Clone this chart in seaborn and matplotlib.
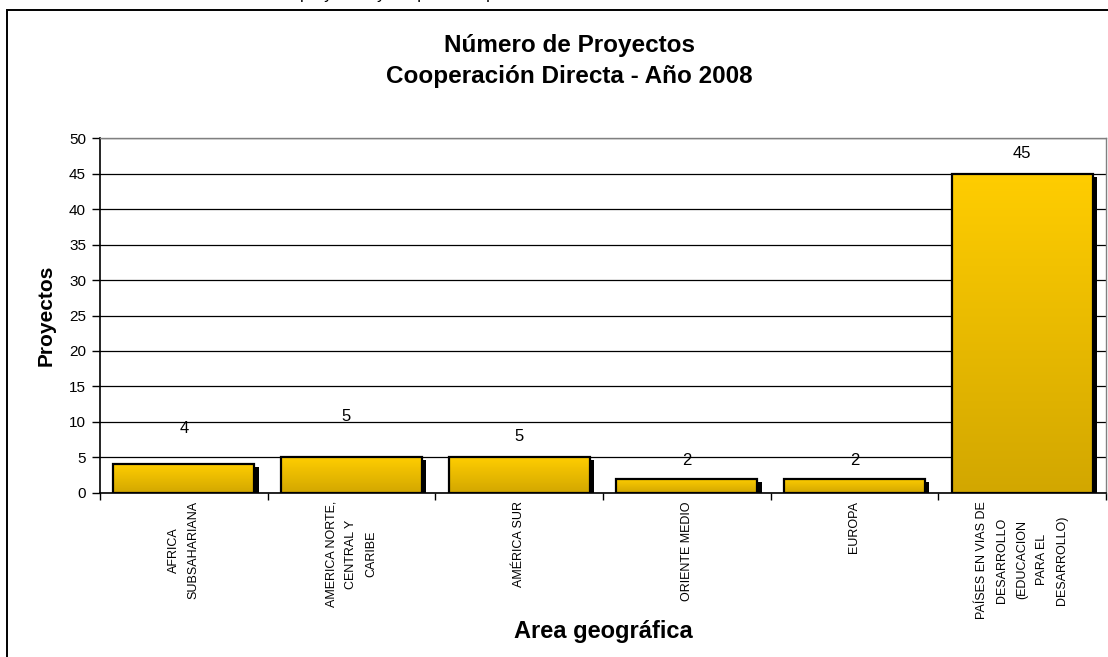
import numpy as np
import pandas as pd
import matplotlib
matplotlib.use("Agg")
import matplotlib.pyplot as plt
import matplotlib.transforms as mtransforms
from matplotlib.patches import Rectangle
from matplotlib.colors import LinearSegmentedColormap
import seaborn as sns

# datos
areas = [
    "AFRICA\nSUBSAHARIANA",
    "AMERICA NORTE,\nCENTRAL Y\nCARIBE",
    "AMÉRICA SUR",
    "ORIENTE MEDIO",
    "EUROPA",
    "PAÍSES EN VIAS DE\nDESARROLLO\n(EDUCACION\nPARA EL\nDESARROLLO)",
]
proyectos = [4, 5, 5, 2, 2, 45]
titulo = "Número de Proyectos\nCooperación Directa - Año 2008"

df = pd.DataFrame({"area": areas, "proyectos": proyectos})

sns.set_style("white")
plt.rcParams["font.family"] = ["Liberation Sans", "DejaVu Sans"]
plt.rcParams["text.color"] = "black"
plt.rcParams["axes.labelcolor"] = "black"
plt.rcParams["xtick.color"] = "black"
plt.rcParams["ytick.color"] = "black"

fig = plt.figure(figsize=(11.08, 6.57), dpi=100)
ax = fig.add_axes([100 / 1108, 1 - 492.7 / 657, 1006 / 1108, (492.7 - 138.3) / 657])

sns.barplot(data=df, x="area", y="proyectos", color="#FFCC00", width=0.84,
            edgecolor="black", linewidth=1.6, ax=ax, zorder=4)

# degradado amarillo + sombra negra
cmap = LinearSegmentedColormap.from_list("oro", ["#D2A700", "#FFCD00"])
grad = np.linspace(0, 1, 256).reshape(-1, 1)
shadow_tr = ax.transData + mtransforms.ScaledTranslation(4.5 / 100, -3 / 100, fig.dpi_scale_trans)
for p in ax.patches[:]:
    x, w, h = p.get_x(), p.get_width(), p.get_height()
    im = ax.imshow(grad, extent=[x, x + w, 0, h], origin="lower", aspect="auto",
                   cmap=cmap, zorder=3.5)
    im.set_clip_path(p)
    p.set_facecolor("none")
    ax.add_patch(Rectangle((x, 0), w, h, transform=shadow_tr, facecolor="black",
                           edgecolor="none", zorder=3))

# etiquetas de valor (posicion algo desplazada como en el original)
label_offsets = [5.0, 5.8, 2.9, 2.6, 2.6, 2.9]
for i, v in enumerate(proyectos):
    ax.text(i - (0.03 if i == 1 else 0), v + label_offsets[i], str(v),
            ha="center", va="center", fontsize=12)

ax.set_xlim(-0.5, 5.5)
ax.set_ylim(0, 50)
ax.set_yticks(range(0, 51, 5))
ax.yaxis.grid(True, color="black", linewidth=0.9)
ax.set_axisbelow(True)

ax.set_xticks(range(len(areas)))
ax.set_xticklabels(areas, rotation=90, fontsize=9, linespacing=1.9,
                   ha="center", va="top", multialignment="center")
ax.set_xticks(np.arange(-0.5, 6, 1), minor=True)
ax.tick_params(axis="x", which="major", length=0, pad=6)
ax.tick_params(axis="x", which="minor", length=5, width=1, direction="out")
ax.tick_params(axis="y", length=6, width=1, direction="out", labelsize=11, pad=4)
ax.tick_params(left=True, bottom=True, which="both")

for s in ["left", "bottom"]:
    ax.spines[s].set_color("black")
    ax.spines[s].set_linewidth(1.2)
for s in ["top", "right"]:
    ax.spines[s].set_color("#808080")
    ax.spines[s].set_linewidth(1)

ax.set_xlabel("Area geográfica", fontsize=17, fontweight="bold", labelpad=1)
ax.set_ylabel("Proyectos", fontsize=15, fontweight="bold", labelpad=10)

fig.text(569 / 1108, 1 - 61 / 657, titulo, ha="center", va="center",
         fontsize=17.5, fontweight="bold", linespacing=1.45)

# texto cortado arriba del original
fig.text(300 / 1108, 1 + 1.5 / 657, "proyectos y cooperación por área",
         fontsize=12, va="baseline")

# marco exterior del grafico
fig.patches.append(Rectangle((7 / 1108, -0.02), 1.1, 1 - 10 / 657 + 0.02,
                             transform=fig.transFigure, fill=False,
                             edgecolor="black", linewidth=1.4))

fig.savefig("out.png", dpi=100)
